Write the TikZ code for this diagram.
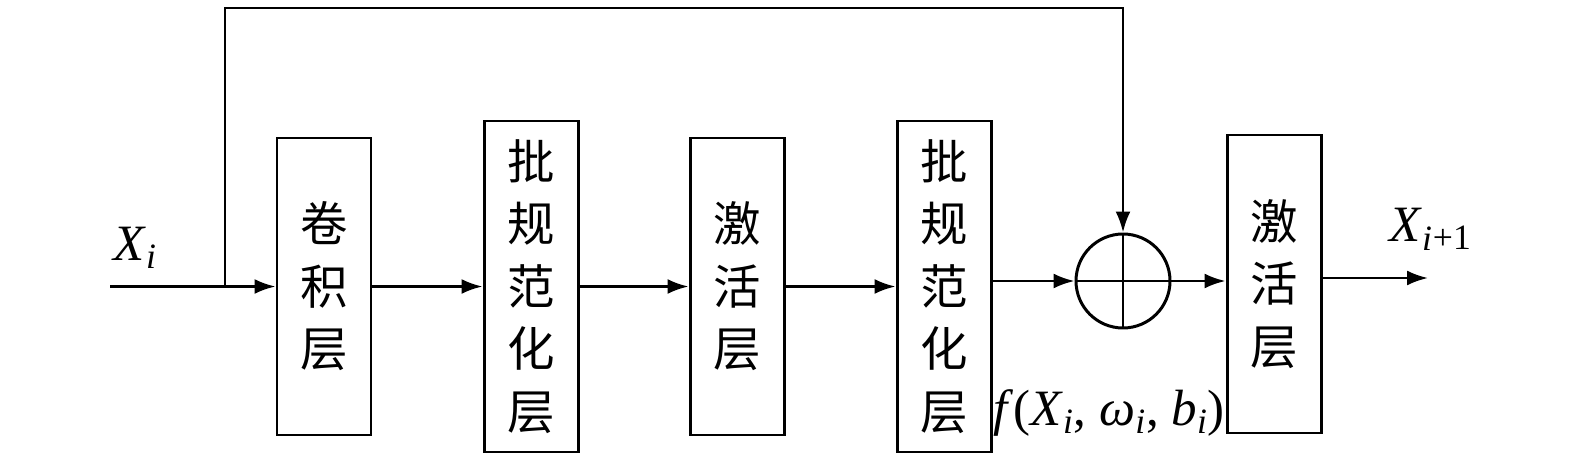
\documentclass[tikz,border=0pt]{standalone}
\usepackage{fontspec}
\newfontfamily\cjk{Noto Sans CJK SC}
\newfontfamily\tms{Liberation Serif}
\usepackage{tikz}
\usetikzlibrary{arrows.meta,positioning,calc}

\tikzset{
    layer/.style={draw, line width=1.7pt, minimum width=1.88cm, align=center,
        font=\cjk\fontsize{27}{35.6}\selectfont},
    arr/.style={-{Latex[length=0.42cm,width=0.3cm]}, line width=1.5pt},
    lbl/.style={font=\tms\fontsize{29}{34}\selectfont, inner sep=0pt}
}
\newcommand{\ivar}[2]{\textit{#1}\textsubscript{\textit{#2}}}

\begin{document}
\begin{tikzpicture}
    \useasboundingbox (0,0) rectangle (31.5,9.26);

    % Layers
    \node[layer, minimum height=5.94cm] (conv) at (6.48,3.53) {卷\\积\\层};
    \node[layer, minimum height=6.62cm] (bn1) at (10.62,3.53) {批\\规\\范\\化\\层};
    \node[layer, minimum height=5.94cm] (act1) at (14.74,3.53) {激\\活\\层};
    \node[layer, minimum height=6.62cm] (bn2) at (18.88,3.53) {批\\规\\范\\化\\层};
    \node[layer, minimum height=5.96cm] (act2) at (25.48,3.58) {激\\活\\层};

    % Sum junction
    \node[draw, circle, line width=1.7pt, minimum size=1.88cm, inner sep=0pt] (sum) at (22.46,3.64) {};
    \draw[line width=1.5pt] (sum.north) -- (sum.south) (sum.west) -- (sum.east);

    % Input, shortcut and output
    \coordinate (in) at (2.2,3.53);
    \coordinate (split) at (4.5,3.53);
    \coordinate (top) at (4.5,9.1);
    \coordinate (out) at (28.56,3.7);

    \draw[arr] (in) -- (conv.west);
    \draw[arr] (split) -- (top) -| (sum.north);
    \draw[arr] (conv.east) -- (bn1.west);
    \draw[arr] (bn1.east) -- (act1.west);
    \draw[arr] (act1.east) -- (bn2.west);
    \draw[arr] (sum.west -| bn2.east) -- (sum.west);
    \draw[arr] (sum.east) -- (sum.east -| act2.west);
    \draw[arr] (out -| act2.east) -- (out);

    % Labels
    \node[lbl, anchor=base west] (xin) at (2.26,4.06) {\ivar{X}{i}};
    \node[lbl, anchor=base west] (xout) at (27.78,4.43) {\ivar{X}{i}\textsubscript{+1}};
    \node[lbl, anchor=base west] (flabel) at (19.86,0.76) {\textit{f}(\ivar{X}{i}, \ivar{ω}{i}, \ivar{b}{i})};
\end{tikzpicture}
\end{document}
